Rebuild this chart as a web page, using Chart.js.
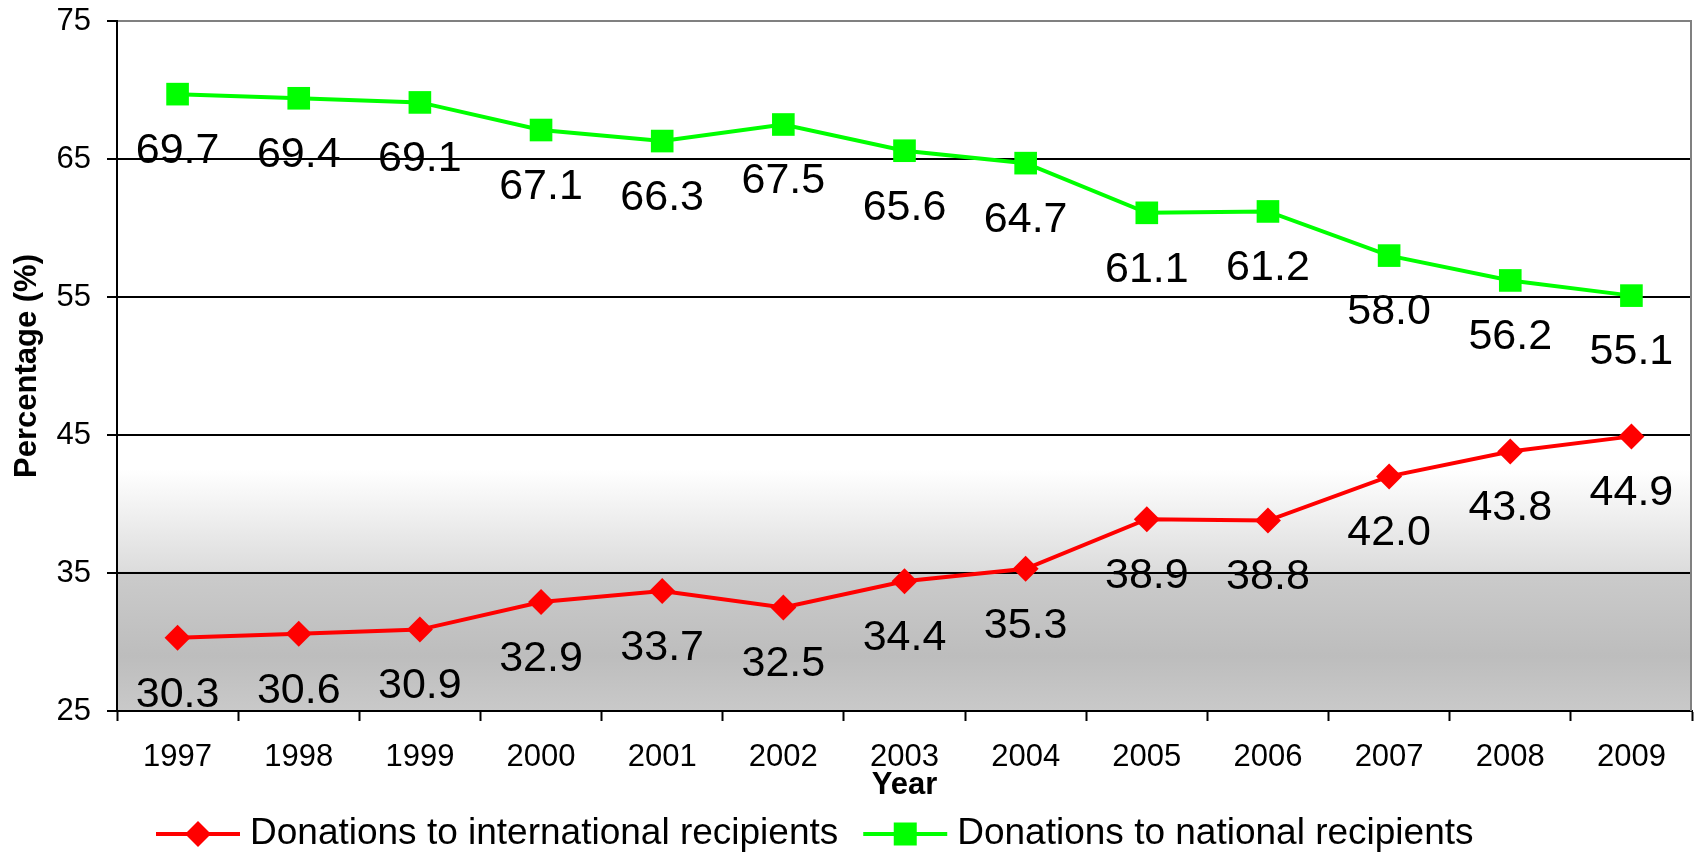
<!DOCTYPE html>
<html>
<head>
<meta charset="utf-8">
<script src="https://cdn.jsdelivr.net/npm/chart.js@4/dist/chart.umd.min.js"></script>
<style>
  html, body { margin: 0; padding: 0; background: #fff; overflow: hidden; }
  #wrap { position: relative; width: 1696px; height: 855px; }
  canvas { display: block; }
</style>
</head>
<body>
<div id="wrap"><canvas id="chart"></canvas></div>
<script>
// data
const years = ['1997', '1998', '1999', '2000', '2001', '2002', '2003', '2004', '2005', '2006', '2007', '2008', '2009'];
const international = [30.3, 30.6, 30.9, 32.9, 33.7, 32.5, 34.4, 35.3, 38.9, 38.8, 42.0, 43.8, 44.9];
const national = [69.7, 69.4, 69.1, 67.1, 66.3, 67.5, 65.6, 64.7, 61.1, 61.2, 58.0, 56.2, 55.1];
const seriesNames = ['Donations to international recipients', 'Donations to national recipients'];
const yTicks = [25, 35, 45, 55, 65, 75];

const FONT = '"Liberation Sans", Arial, sans-serif';

// grey gradient behind the plot + grey right border
const backgroundPlugin = {
    id: 'plotBackground',
    beforeDraw(chart) {
        const {ctx, chartArea: a} = chart;
        const g = ctx.createLinearGradient(0, a.top, 0, a.bottom);
        g.addColorStop(0, '#ffffff');
        g.addColorStop(0.65, '#ffffff');
        g.addColorStop(0.797, '#dcdcdc');
        g.addColorStop(0.8, '#cbcbcb');
        g.addColorStop(0.92, '#bdbdbd');
        g.addColorStop(1, '#c9c9c9');
        ctx.save();
        ctx.fillStyle = g;
        ctx.fillRect(a.left, a.top, a.right - a.left, a.bottom - a.top);
        ctx.restore();
    },
    afterDraw(chart) {
        const {ctx, chartArea: a} = chart;
        ctx.save();
        ctx.strokeStyle = '#808080';
        ctx.lineWidth = 2;
        ctx.beginPath();
        ctx.moveTo(a.right - 1, a.top);
        ctx.lineTo(a.right - 1, a.bottom);
        ctx.stroke();
        ctx.restore();
    }
};

// value labels under each point
const valueLabels = {
    id: 'valueLabels',
    afterDatasetsDraw(chart) {
        const ctx = chart.ctx;
        ctx.save();
        ctx.font = '43px ' + FONT;
        ctx.fillStyle = '#000';
        ctx.textAlign = 'center';
        ctx.textBaseline = 'middle';
        chart.data.datasets.forEach((ds, i) => {
            chart.getDatasetMeta(i).data.forEach((pt, j) => {
                ctx.fillText(ds.data[j].toFixed(1), pt.x, pt.y + 57);
            });
        });
        ctx.restore();
    }
};

// legend: line with marker, then the text
const lineLegend = {
    id: 'lineLegend',
    afterDraw(chart) {
        const ctx = chart.ctx;
        const y = 834;
        let x = 156;
        ctx.save();
        ctx.font = '37px ' + FONT;
        ctx.textBaseline = 'middle';
        chart.data.datasets.forEach(ds => {
            const cx = x + 42;
            ctx.strokeStyle = ds.borderColor;
            ctx.lineWidth = 4;
            ctx.beginPath();
            ctx.moveTo(x, y);
            ctx.lineTo(x + 84, y);
            ctx.stroke();
            ctx.fillStyle = ds.borderColor;
            ctx.beginPath();
            if (ds.pointStyle === 'rectRot') {
                ctx.moveTo(cx, y - 13);
                ctx.lineTo(cx + 13, y);
                ctx.lineTo(cx, y + 13);
                ctx.lineTo(cx - 13, y);
                ctx.closePath();
            } else {
                ctx.rect(cx - 11.5, y - 11.5, 23, 23);
            }
            ctx.fill();
            ctx.fillStyle = '#000';
            ctx.fillText(ds.label, x + 94, y);
            x += 94 + ctx.measureText(ds.label).width + 25;
        });
        ctx.restore();
    }
};

new Chart(document.getElementById('chart'), {
    type: 'line',
    data: {
        labels: years,
        datasets: [{
            label: seriesNames[0],
            data: international,
            borderColor: '#ff0000',
            backgroundColor: '#ff0000',
            borderWidth: 4,
            pointStyle: 'rectRot',
            pointRadius: 13,
            pointBorderWidth: 0,
            pointBackgroundColor: '#ff0000',
            tension: 0
        }, {
            label: seriesNames[1],
            data: national,
            borderColor: '#00ff00',
            backgroundColor: '#00ff00',
            borderWidth: 4,
            pointStyle: 'rect',
            pointRadius: 16,
            pointBorderWidth: 0,
            pointBackgroundColor: '#00ff00',
            tension: 0
        }]
    },
    options: {
        responsive: true,
        maintainAspectRatio: false,
        animation: false,
        layout: { autoPadding: false, padding: { left: 0, top: 21, right: 4, bottom: 49 } },
        plugins: {
            legend: { display: false },
            tooltip: { enabled: false }
        },
        scales: {
            x: {
                offset: true,
                afterFit: s => {
                    s.height = 95;
                    s.paddingLeft = 0;
                    s.paddingRight = 0;
                },
                grid: {
                    offset: true,
                    drawOnChartArea: false,
                    drawTicks: true,
                    tickLength: 10,
                    tickColor: '#000',
                    tickWidth: 2
                },
                border: { color: '#000', width: 2 },
                ticks: {
                    color: '#000',
                    padding: 18,
                    font: { family: FONT, size: 31 }
                },
                title: {
                    display: true,
                    text: 'Year',
                    color: '#000',
                    font: { family: FONT, size: 31, weight: 'bold' },
                    padding: { top: 0, bottom: 2 }
                }
            },
            y: {
                min: yTicks[0],
                max: yTicks[yTicks.length - 1],
                afterFit: s => {
                    s.width = 117;
                    s.paddingTop = 0;
                    s.paddingBottom = 0;
                },
                afterBuildTicks: s => { s.ticks = yTicks.map(v => ({ value: v })); },
                grid: {
                    color: c => c.tick && c.tick.value === 75 ? '#808080' : '#000',
                    lineWidth: 2,
                    tickLength: 10,
                    tickColor: '#000',
                    tickWidth: 2
                },
                border: { color: '#000', width: 2 },
                ticks: {
                    color: '#000',
                    padding: 16,
                    font: { family: FONT, size: 31 }
                },
                title: {
                    display: true,
                    text: 'Percentage (%)',
                    color: '#000',
                    font: { family: FONT, size: 31, weight: 'bold' },
                    padding: { top: 9, bottom: 0 }
                }
            }
        }
    },
    plugins: [backgroundPlugin, valueLabels, lineLegend]
});
</script>
</body>
</html>
